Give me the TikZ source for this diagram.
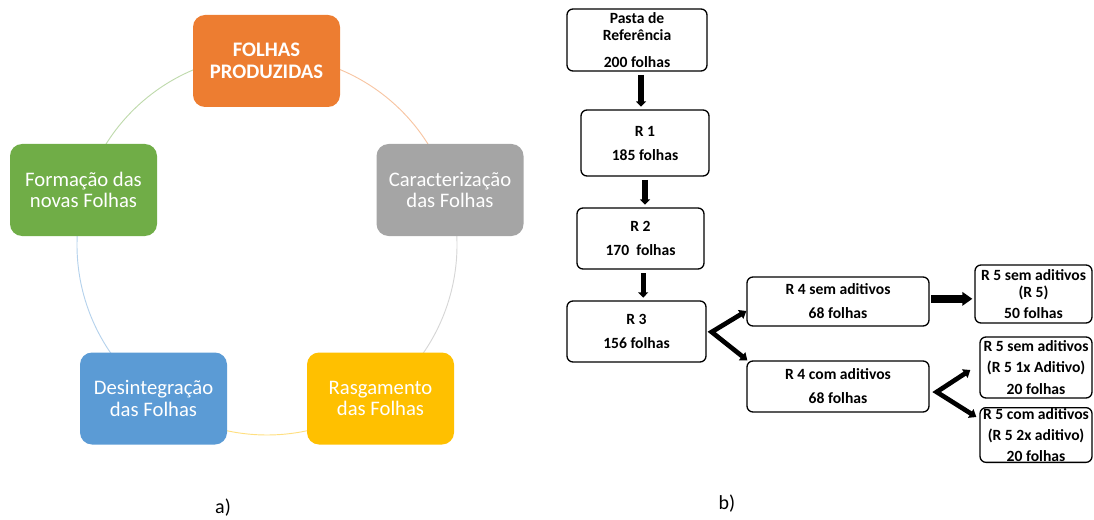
\documentclass[tikz,border=0pt]{standalone}
\usepackage{fontspec}
\setmainfont{Carlito}
\usetikzlibrary{arrows.meta, positioning, calc}
\definecolor{sorange}{HTML}{ED7D31}
\definecolor{sgray}{HTML}{A5A5A5}
\definecolor{syellow}{HTML}{FFC000}
\definecolor{sblue}{HTML}{5B9BD5}
\definecolor{sgreen}{HTML}{70AD47}

\begin{document}
\begin{tikzpicture}[
  x=0.75pt, y=-0.75pt,
  stage/.style={rectangle, rounded corners=9pt, minimum width=110.25pt,
                minimum height=69pt, inner sep=0pt, align=center, text=white,
                font=\fontsize{15.5}{16.3}\selectfont},
  ring/.style={line width=0.7pt},
  box/.style={rectangle, rounded corners=4.5pt, draw=black, line width=1pt,
              inner sep=0pt, align=center,
              font=\bfseries\fontsize{11.7}{18}\selectfont},
  trio/.style={box, font=\bfseries\fontsize{11.7}{16.3}\selectfont},
  varr/.style={line width=4pt, -{Triangle[length=4pt, width=7.5pt]},
               shorten <=2.5pt, shorten >=2pt},
  harr/.style={line width=6pt, -{Triangle[length=7.5pt, width=10pt]},
               shorten <=1pt, shorten >=1.5pt},
  fork/.style={line width=3.5pt, miter limit=4,
               {Triangle[length=5pt, width=7.5pt]}-{Triangle[length=5pt, width=7.5pt]}},
  lbl/.style={font=\fontsize{15}{18}\selectfont},
]
  \useasboundingbox (0,0) rectangle (1094,520);

  % cycle a)
  \coordinate (cyc) at (267,245);
  \draw[ring, sorange!45] ($(cyc)+(-90:190)$)   arc[start angle=-90,   end angle=-16.7, radius=190];
  \draw[ring, sgray!45]   ($(cyc)+(-16.7:190)$) arc[start angle=-16.7, end angle=53.5,  radius=190];
  \draw[ring, syellow!50] ($(cyc)+(53.5:190)$)  arc[start angle=53.5,  end angle=126.5, radius=190];
  \draw[ring, sblue!45]   ($(cyc)+(126.5:190)$) arc[start angle=126.5, end angle=196.7, radius=190];
  \draw[ring, sgreen!45]  ($(cyc)+(196.7:190)$) arc[start angle=196.7, end angle=270,   radius=190];

  \node[stage, fill=sorange, font=\bfseries\fontsize{15.5}{16.3}\selectfont]
                              (prod) at (266.5,61)  {FOLHAS\\PRODUZIDAS};
  \node[stage, fill=sgray]    (car)  at (450,190)   {Caracterização\\das Folhas};
  \node[stage, fill=syellow]  (ras)  at (380.5,398.5) {Rasgamento\\das Folhas};
  \node[stage, fill=sblue]    (des)  at (153.5,398.5) {Desintegração\\das Folhas};
  \node[stage, fill=sgreen]   (form) at (83.5,190)  {Formação das\\novas Folhas};

  \node[lbl] (lbla) at (223,508) {a)};

  % flow b)
  \node[box, minimum width=105pt, minimum height=46.5pt, font=\bfseries\fontsize{11.7}{13}\selectfont]
        (pasta) at (637,40) {Pasta de\\Referência\\[7pt]200 folhas};
  \node[box, minimum width=96pt, minimum height=49.5pt]    (r1) at (645,143)   {R 1\\185 folhas};
  \node[box, minimum width=95.25pt, minimum height=45.75pt] (r2) at (640.5,238.5) {R 2\\170\ \ folhas};
  \node[box, minimum width=104.25pt, minimum height=45.75pt] (r3) at (636.5,331.5) {R 3\\156 folhas};
  \node[box, minimum width=136.5pt, minimum height=36.75pt] (r4s) at (838,301.5) {R 4 sem aditivos\\68 folhas};
  \node[box, minimum width=136.5pt, minimum height=38.25pt] (r4c) at (838,386.5) {R 4 com aditivos\\68 folhas};
  \node[trio, minimum width=87.75pt, minimum height=43.5pt, font=\bfseries\fontsize{11.7}{13}\selectfont]
        (r5a) at (1033.5,294) {R 5 sem aditivos\\(R 5)\\[2.5pt]50 folhas};
  \node[trio, minimum width=84pt, minimum height=45.75pt]   (r5b) at (1036,367.5) {R 5 sem aditivos\\(R 5 1x Aditivo)\\20 folhas};
  \node[trio, minimum width=84pt, minimum height=41pt, font=\bfseries\fontsize{11.7}{16}\selectfont]
        (r5c) at (1036,435) {R 5 com aditivos\\(R 5 2x aditivo)\\20 folhas};

  \draw[varr] ([xshift=3pt]pasta.south) -- ([xshift=3pt]pasta.south |- r1.north);
  \draw[varr] (r1.south) -- (r1.south |- r2.north);
  \draw[varr] ([xshift=2pt]r2.south) -- ([xshift=2pt]r2.south |- r3.north);
  \draw[harr] ([yshift=2pt]r4s.east) -- ([yshift=2pt]r4s.east -| r5a.west);

  \draw[fork] ($(r4s.west)+(0,9.5)$) -- ($(r3.east)+(5,0.5)$) -- ($(r4c.north west)+(1,0)$);
  \draw[fork] ($(r5b.west)+(-9,2.5)$) -- ($(r4c.east)+(7,5.5)$) -- ($(r5c.west)+(-3,-18)$);

  \node[lbl] (lblb) at (727,504) {b)};
\end{tikzpicture}
\end{document}
